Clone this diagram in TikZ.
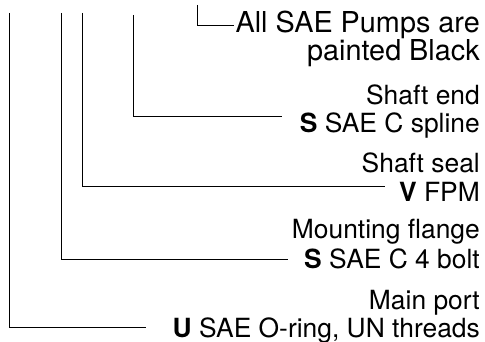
\documentclass[tikz,border=0pt]{standalone}
\usepackage{fontspec}
\setmainfont{TeX Gyre Heros}
\begin{document}
\begin{tikzpicture}[x=1pt,y=-1pt,
  lbl/.style={anchor=base east,inner sep=0pt,font=\fontsize{26.4}{28}\selectfont},
  lblbig/.style={lbl,font=\fontsize{28.8}{30}\selectfont},
  lead/.style={line width=1pt,black}]
\useasboundingbox (0,0) rectangle (485,342);
% texts
\node[lblbig] (t1a) at (480,33) {All SAE Pumps are};
\node[lblbig] (t1b) at (480,61) {painted Black};
\node[lbl] (t2a) at (480,105) {Shaft end};
\node[lbl] (t2b) at (480,133) {\textbf{S} SAE C spline};
\node[lbl] (t3a) at (480,173) {Shaft seal};
\node[lbl] (t3b) at (480,201) {\textbf{V} FPM};
\node[lbl] (t4a) at (480,239) {Mounting flange};
\node[lbl] (t4b) at (480,268) {\textbf{S} SAE C 4 bolt};
\node[lbl] (t5a) at (480,309) {Main port};
\node[lbl] (t5b) at (480,337) {\textbf{U} SAE O-ring, UN threads};
% leader coordinates
\coordinate (s1) at (197,5);   \coordinate (e1) at (234,26);
\coordinate (s2) at (133,15);  \coordinate (e2) at (282,117);
\coordinate (s3) at (82,13);   \coordinate (e3) at (385,187);
\coordinate (s4) at (61,13);   \coordinate (e4) at (288,259);
\coordinate (s5) at (9.5,13);  \coordinate (e5) at (146,327);
\draw[lead] (s1) |- (e1);
\draw[lead] (s2) |- (e2);
\draw[lead] (s3) |- (e3);
\draw[lead] (s4) |- (e4);
\draw[lead] (s5) |- (e5);
\end{tikzpicture}
\end{document}
